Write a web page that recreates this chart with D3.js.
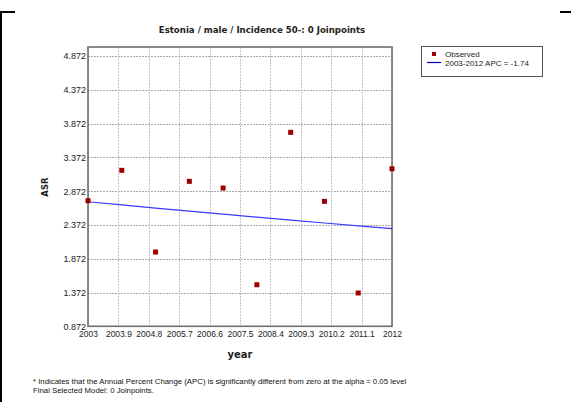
<!DOCTYPE html>
<html><head><meta charset="utf-8">
<script src="https://cdn.jsdelivr.net/npm/d3@7"></script>
<style>body{margin:0;background:#fff}svg{display:block}</style>
</head><body>
<svg id="c" width="571" height="402"></svg>
<script>
const years = [2003,2004,2005,2006,2007,2008,2009,2010,2011,2012];
const observed = [2.730,3.180,1.971,3.017,2.918,1.487,3.742,2.721,1.365,3.203];
const fitted = [2.715,2.668,2.621,2.576,2.531,2.487,2.443,2.401,2.359,2.318];
const yTicks = [0.872,1.372,1.872,2.372,2.872,3.372,3.872,4.372,4.872];
const xTicks = [2003,2003.9,2004.8,2005.7,2006.6,2007.5,2008.4,2009.3,2010.2,2011.1,2012];
const title = "Estonia / male / Incidence 50-: 0 Joinpoints";
const legendLabels = ["Observed","2003-2012 APC  = -1.74"];
const notes = ["* Indicates that the Annual Percent Change (APC) is significantly different from zero at the alpha = 0.05 level","Final Selected Model: 0 Joinpoints."];

const svg = d3.select("#c");
const L=88,R=392,T=47,B=326.3;
const x = d3.scaleLinear().domain([2003,2012]).range([L,R]);
const y = d3.scaleLinear().domain([0.872,5.005]).range([B,T]);
const sans = "Arial, 'Liberation Sans', sans-serif";

// frame corners
svg.append("rect").attr("x",0).attr("y",11).attr("width",15).attr("height",2).attr("fill","#000");
svg.append("rect").attr("x",0).attr("y",11).attr("width",2).attr("height",391).attr("fill","#000");
svg.append("rect").attr("x",560).attr("y",11).attr("width",11).attr("height",2).attr("fill","#000");

// grid
const g = svg.append("g");
g.selectAll("line.gy").data(yTicks).join("line")
 .attr("x1",L).attr("x2",R).attr("y1",d=>Math.round(y(d))+0.5).attr("y2",d=>Math.round(y(d))+0.5)
 .attr("stroke","#aaaaaa").attr("stroke-dasharray","2,1");
g.selectAll("line.gx").data(xTicks).join("line")
 .attr("y1",T).attr("y2",B).attr("x1",d=>Math.round(x(d))+0.5).attr("x2",d=>Math.round(x(d))+0.5)
 .attr("stroke","#c4c4c4").attr("stroke-dasharray","2,1");

// axes via d3
const ax = svg.append("g").attr("transform",`translate(0,${B})`)
 .call(d3.axisBottom(x).tickValues(xTicks).tickSize(0).tickPadding(5).tickFormat(d=>String(+d.toFixed(1))));
ax.select(".domain").remove();
ax.selectAll("text").attr("font-family",sans).attr("font-size",8.5).attr("fill","#222");
const ay = svg.append("g").attr("transform",`translate(${L},0)`)
 .call(d3.axisLeft(y).tickValues(yTicks).tickSize(0).tickPadding(2).tickFormat(d3.format(".3f")));
ay.select(".domain").remove();
ay.selectAll("text").attr("font-family",sans).attr("font-size",9).attr("fill","#222");

// plot border
svg.append("rect").attr("x",L).attr("y",T).attr("width",R-L).attr("height",B-T)
 .attr("fill","none").attr("stroke","#6e6e6e").attr("stroke-width",1.6);

// fitted line
svg.append("path").datum(years.map((yr,i)=>[yr,fitted[i]]))
 .attr("d",d3.line().x(d=>x(d[0])).y(d=>y(d[1])))
 .attr("fill","none").attr("stroke","#3a3aff").attr("stroke-width",1.2);

// observed
svg.selectAll("rect.obs").data(years).join("rect")
 .attr("x",(d)=>x(d)-2.5).attr("y",(d,i)=>y(observed[i])-2.5).attr("width",5).attr("height",5)
 .attr("fill","#9b0000");

// title
svg.append("text").attr("x",262).attr("y",33).attr("text-anchor","middle")
 .attr("font-family","'DejaVu Sans', Verdana, sans-serif").attr("font-weight","bold").attr("font-size",8.6)
 .attr("fill","#222").text(title);
// axis titles
svg.append("text").attr("x",240).attr("y",358).attr("text-anchor","middle")
 .attr("font-family","'DejaVu Sans', Verdana, sans-serif").attr("font-weight","bold").attr("font-size",10)
 .attr("fill","#222").text("year");
svg.append("text").attr("transform","translate(48,187) rotate(-90)").attr("text-anchor","middle")
 .attr("font-family","'DejaVu Sans', Verdana, sans-serif").attr("font-weight","bold").attr("font-size",8.5)
 .attr("fill","#222").text("ASR");

// legend
const lg = svg.append("g");
lg.append("rect").attr("x",421.5).attr("y",46.5).attr("width",121).attr("height",30)
 .attr("fill","#fff").attr("stroke","#555").attr("stroke-width",1);
lg.append("rect").attr("x",432).attr("y",52).attr("width",4).attr("height",4).attr("fill","#9b0000");
lg.append("line").attr("x1",427).attr("x2",441).attr("y1",62.5).attr("y2",62.5).attr("stroke","#0000cc").attr("stroke-width",1.2);
lg.selectAll("text").data(legendLabels).join("text")
 .attr("x",445).attr("y",(d,i)=>57+i*9).attr("font-family",sans).attr("font-size",8).attr("fill","#222").text(d=>d);

// notes
svg.selectAll("text.note").data(notes).join("text").attr("class","note")
 .attr("x",33).attr("y",(d,i)=>384+i*9).attr("font-family",sans).attr("font-size",7.8).attr("fill","#111").text(d=>d);
</script>
</body></html>
